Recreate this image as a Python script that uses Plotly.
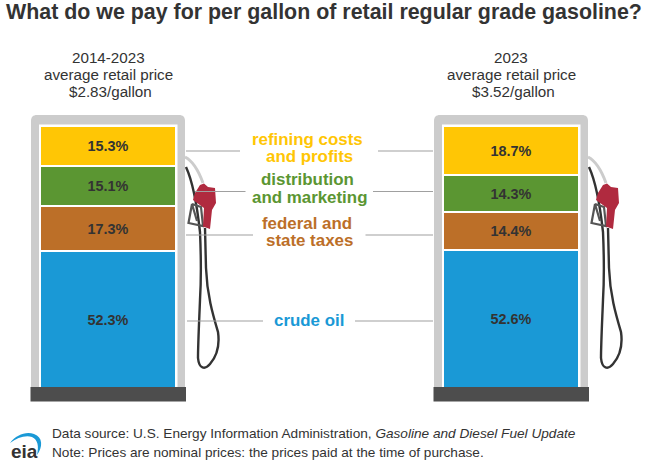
import plotly.graph_objects as go

W, H = 650, 468

periods = ["2014-2023", "2023"]
components = ["crude oil", "federal and state taxes", "distribution and marketing", "refining costs and profits"]
crude_oil = [52.3, 52.6]
taxes = [17.3, 14.4]
distribution = [15.1, 14.3]
refining = [15.3, 18.7]
prices = ["$2.83/gallon", "$3.52/gallon"]

BLUE = "#1a99d6"
BROWN = "#bc6f28"
GREEN = "#5b9632"
GOLD = "#ffc605"
FONT = "Liberation Sans"
INK = "#333333"


# everything that is not a bar is placed in picture pixels
def fx(x):
    return x / W


def fy(y):
    return 1 - y / H


def path(points, closed=False):
    # points: ("M", x, y) / ("L", x, y) / ("C", x1, y1, x2, y2, x, y)
    out = []
    for p in points:
        nums = []
        for i in range(1, len(p), 2):
            nums.append(f"{fx(p[i]):.5f},{fy(p[i + 1]):.5f}")
        out.append(p[0] + " ".join(nums))
    return " ".join(out) + (" Z" if closed else "")


fig = go.Figure()
for name, values, color in zip(components, [crude_oil, taxes, distribution, refining], [BLUE, BROWN, GREEN, GOLD]):
    fig.add_trace(go.Bar(
        x=periods, y=values, name=name, width=0.337,
        marker=dict(color=color, line=dict(color="white", width=2)),
        text=[f"{v}%" for v in values], textposition="inside", insidetextanchor="middle",
        textangle=0, constraintext="none",
        insidetextfont=dict(family=FONT, size=14.4, color=INK, weight="bold"),
        hoverinfo="skip",
    ))

shapes = []
annotations = []


def text(x, y, s, size, color=INK, anchor="center", bold=False):
    annotations.append(dict(
        xref="paper", yref="paper", x=fx(x), y=fy(y), text=s, showarrow=False,
        xanchor=anchor, yanchor="middle", align=anchor,
        font=dict(family=FONT, size=size, color=color, weight="bold" if bold else "normal"),
    ))


def line(x0, y0, x1, y1, color="#a0a0a0", width=1.2):
    shapes.append(dict(type="line", xref="paper", yref="paper", x0=fx(x0), y0=fy(y0), x1=fx(x1), y1=fy(y1),
                       line=dict(color=color, width=width), layer="below"))


def pump(dx):
    # frame
    shapes.append(dict(type="path", xref="paper", yref="paper", layer="below", fillcolor="#cccccc",
                       line=dict(width=0),
                       path=path([("M", dx + 31, 390), ("L", dx + 31, 121), ("C", dx + 31, 117, dx + 33, 115, dx + 37, 115),
                                  ("L", dx + 179, 115), ("C", dx + 183, 115, dx + 185, 117, dx + 185, 121),
                                  ("L", dx + 185, 390)], True)))
    shapes.append(dict(type="rect", xref="paper", yref="paper", layer="below", fillcolor="white", line=dict(width=0),
                       x0=fx(dx + 39), x1=fx(dx + 177.5), y0=fy(124.5), y1=fy(387)))
    shapes.append(dict(type="rect", xref="paper", yref="paper", layer="above", fillcolor="#4d4d4d", line=dict(width=0),
                       x0=fx(dx + 30.5), x1=fx(dx + 186), y0=fy(387), y1=fy(401.5)))
    # hoses
    shapes.append(dict(type="path", xref="paper", yref="paper", layer="below", line=dict(color="#cccccc", width=3),
                       path=path([("M", dx + 185, 157), ("C", dx + 193, 161, dx + 199, 172, dx + 203, 183)])))
    shapes.append(dict(type="path", xref="paper", yref="paper", layer="below", line=dict(color="#333333", width=2.4),
                       path=path([("M", dx + 186, 167), ("C", dx + 192, 180, dx + 197, 205, dx + 200, 232),
                                  ("C", dx + 201, 255, dx + 201.5, 275, dx + 200, 300),
                                  ("C", dx + 199, 325, dx + 198, 345, dx + 198, 358),
                                  ("C", dx + 199, 369, dx + 205, 370, dx + 210, 364),
                                  ("C", dx + 216, 357, dx + 220, 346, dx + 218, 332),
                                  ("C", dx + 213, 315, dx + 207, 295, dx + 206, 268),
                                  ("L", dx + 205, 228)])))
    # nozzle
    shapes.append(dict(type="path", xref="paper", yref="paper", layer="below", fillcolor="rgba(0,0,0,0)",
                       line=dict(color="#555555", width=2.2),
                       path=path([("M", dx + 192, 204), ("L", dx + 201, 207), ("L", dx + 203, 226), ("L", dx + 188.5, 223),
                                  ("L", dx + 192, 204), ("L", dx + 197, 221)])))
    shapes.append(dict(type="path", xref="paper", yref="paper", layer="below", fillcolor="#b02a3f", line=dict(width=0),
                       path=path([("M", dx + 200, 185), ("L", dx + 204, 183.5), ("L", dx + 208, 187), ("L", dx + 215, 188),
                                  ("L", dx + 216, 203), ("L", dx + 212, 210), ("L", dx + 210, 229), ("L", dx + 203, 226.5),
                                  ("L", dx + 204, 208), ("L", dx + 193, 200), ("L", dx + 195, 193)], True)))


pump(0)
pump(403)

# leader lines left and right of the labels
line(186, 151, 240, 151)
line(195, 191.5, 245.5, 191.5)
line(186, 235, 253, 235)
line(187, 321, 263, 321)
line(378, 151, 433, 151)
line(373, 191.5, 433, 191.5)
line(365.5, 235, 433, 235)
line(355, 321, 433, 321)

for cx, period, price in zip([108, 511], periods, prices):
    text(cx, 57, period, 15.2)
    text(cx, 74.5, "average retail price", 15.2)
    text(cx + 2, 91.5, price, 15.2)

text(307, 139, "refining costs", 16.9, GOLD, bold=True)
text(309, 157, "and profits", 16.9, GOLD, bold=True)
text(307, 180, "distribution", 16.9, GREEN, bold=True)
text(309, 197, "and marketing", 16.9, GREEN, bold=True)
text(307, 223, "federal and", 16.9, BROWN, bold=True)
text(309, 241, "state taxes", 16.9, BROWN, bold=True)
text(309, 320.5, "crude oil", 16.9, BLUE, bold=True)

text(50, 433, "Data source: U.S. Energy Information Administration, <i>Gasoline and Diesel Fuel Update</i>", 13.64, anchor="left")
text(50, 452, "Note: Prices are nominal prices: the prices paid at the time of purchase.", 13.64, anchor="left")

# eia logo
text(9, 451, "eia", 19, "#333333", anchor="left", bold=True)
shapes.append(dict(type="path", xref="paper", yref="paper", fillcolor=BLUE, line=dict(width=0),
                   path=path([("M", 10, 443), ("C", 16, 435, 26, 431, 34, 434), ("C", 43, 437, 43, 447, 37, 455),
                              ("C", 39, 446, 38, 440, 32, 437), ("C", 25, 435, 17, 438, 10, 443)], True)))

# y axis: 2.62 px per percentage point with the base of the stack at y=388
px_per_pct = 2.62
fig.update_layout(
    width=W, height=H, barmode="stack", showlegend=False, autosize=False,
    margin=dict(l=0, r=0, t=0, b=0), paper_bgcolor="white", plot_bgcolor="rgba(0,0,0,0)",
    bargap=0,
    title=dict(text="What do we pay for per gallon of retail regular grade gasoline?",
               x=6 / W, xanchor="left", xref="paper", y=1 - 11 / H, yanchor="middle", yref="container",
               font=dict(family=FONT, size=21.4, color=INK, weight="bold")),
    xaxis=dict(visible=False, type="category", range=[-108.3 / 402.7, (W - 108.3) / 402.7], fixedrange=True),
    yaxis=dict(visible=False, range=[(388 - H) / px_per_pct, 388 / px_per_pct], fixedrange=True),
    shapes=shapes, annotations=annotations,
)

# the browser's default body margin would push the figure 8px off the window
fig.write_html("out.html", config={"displayModeBar": False}, post_script="document.body.style.margin='0';")
